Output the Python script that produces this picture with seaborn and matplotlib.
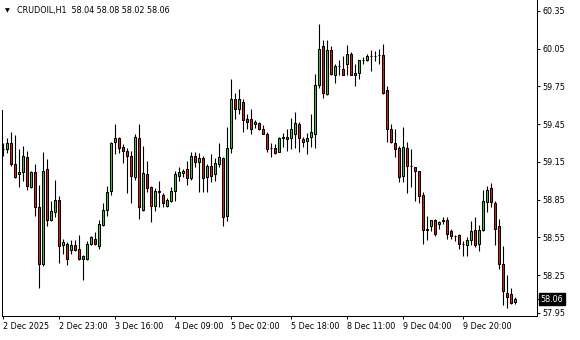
import matplotlib
matplotlib.use("Agg")
import matplotlib.pyplot as plt
import matplotlib.transforms as mtransforms
import seaborn as sns
import numpy as np
import pandas as pd

# ---- data (H1 candles) ----
opens = [59.25, 59.25, 59.30, 59.13, 59.05, 59.07, 59.19, 58.95, 59.07, 58.79,
         58.34, 59.09, 58.69, 58.75, 58.85, 58.49, 58.50, 58.45, 58.49, 58.46,
         58.38, 58.38, 58.50, 58.54, 58.48, 58.65, 58.77, 58.92, 59.31, 59.34,
         59.27, 59.24, 59.20, 59.03, 59.34, 58.77, 59.05, 58.95, 58.80, 58.91,
         58.89, 58.80, 58.84, 58.92, 59.04, 59.06, 59.09, 59.02, 59.20, 59.15,
         59.18, 59.03, 59.12, 59.05, 59.13, 59.18, 58.72, 59.26, 59.65, 59.57,
         59.63, 59.49, 59.49, 59.45, 59.46, 59.41, 59.37, 59.26, 59.26, 59.23,
         59.34, 59.35, 59.34, 59.37, 59.45, 59.33, 59.32, 59.35, 59.37, 59.76,
         60.07, 59.69, 60.04, 59.84, 59.91, 59.89, 59.93, 60.01, 59.84, 59.86,
         59.96, 59.96, 59.99, 59.99, 60.00, 60.00, 59.72, 59.41, 59.30, 59.26,
         59.04, 59.26, 59.12, 59.11, 59.08, 58.89, 58.61, 58.64, 58.69, 58.66,
         58.68, 58.69, 58.60, 58.56, 58.57, 58.50, 58.49, 58.53, 58.61, 58.50,
         58.61, 58.83, 58.94, 58.82, 58.64, 58.34, 58.11, 58.10, 58.04]
highs = [59.30, 59.34, 59.39, 59.36, 59.25, 59.28, 59.24, 59.08, 59.13, 58.97,
         59.23, 59.17, 58.84, 59.01, 58.88, 58.54, 58.51, 58.53, 58.53, 58.57,
         58.41, 58.52, 58.56, 58.59, 58.69, 58.82, 58.96, 59.31, 59.45, 59.35,
         59.29, 59.26, 59.24, 59.37, 59.45, 59.28, 59.16, 58.96, 58.94, 59.00,
         58.90, 58.86, 58.95, 59.08, 59.11, 59.09, 59.16, 59.23, 59.23, 59.22,
         59.20, 59.13, 59.21, 59.18, 59.30, 59.19, 59.43, 59.81, 59.70, 59.73,
         59.65, 59.53, 59.57, 59.48, 59.47, 59.44, 59.39, 59.30, 59.29, 59.35,
         59.38, 59.41, 59.50, 59.55, 59.47, 59.35, 59.38, 59.53, 59.85, 60.25,
         60.12, 60.12, 60.07, 59.93, 59.96, 59.99, 60.08, 60.02, 59.93, 59.96,
         59.98, 60.01, 60.04, 60.03, 60.05, 60.09, 59.75, 59.45, 59.41, 59.28,
         59.43, 59.31, 59.25, 59.11, 59.08, 58.91, 58.72, 58.69, 58.70, 58.68,
         58.71, 58.71, 58.62, 58.57, 58.58, 58.52, 58.55, 58.68, 58.71, 58.65,
         58.93, 58.96, 58.98, 58.84, 58.70, 58.48, 58.25, 58.15, 58.08]
lows = [59.20, 59.22, 59.12, 59.02, 58.95, 59.00, 58.93, 58.94, 58.72, 58.15,
        58.32, 58.64, 58.68, 58.71, 58.35, 58.42, 58.33, 58.42, 58.44, 58.37,
        58.21, 58.37, 58.49, 58.49, 58.46, 58.64, 58.72, 58.89, 59.21, 59.22,
        59.14, 58.90, 58.82, 59.01, 58.70, 58.76, 58.91, 58.67, 58.76, 58.79,
        58.79, 58.79, 58.83, 58.84, 59.00, 59.03, 58.97, 59.01, 59.11, 58.91,
        58.91, 58.91, 58.99, 59.00, 59.11, 58.64, 58.68, 59.22, 59.49, 59.53,
        59.39, 59.41, 59.37, 59.42, 59.40, 59.37, 59.23, 59.19, 59.21, 59.23,
        59.27, 59.24, 59.25, 59.26, 59.23, 59.27, 59.21, 59.27, 59.26, 59.74,
        59.66, 59.68, 59.84, 59.78, 59.84, 59.84, 59.84, 59.84, 59.75, 59.81,
        59.93, 59.95, 59.87, 59.95, 59.93, 59.69, 59.31, 59.30, 59.19, 58.99,
        58.99, 58.90, 58.95, 58.84, 58.82, 58.50, 58.53, 58.60, 58.56, 58.62,
        58.66, 58.54, 58.54, 58.52, 58.46, 58.40, 58.40, 58.49, 58.47, 58.44,
        58.60, 58.75, 58.79, 58.49, 58.30, 58.01, 57.99, 58.02, 58.02]
closes = [59.25, 59.30, 59.13, 59.03, 59.07, 59.20, 58.96, 59.07, 58.79, 58.34,
          59.08, 58.69, 58.76, 58.85, 58.48, 58.51, 58.38, 58.49, 58.45, 58.38,
          58.40, 58.50, 58.55, 58.50, 58.66, 58.77, 58.91, 59.30, 59.34, 59.26,
          59.24, 59.20, 59.04, 59.35, 58.79, 59.06, 58.94, 58.80, 58.92, 58.92,
          58.82, 58.85, 58.92, 59.05, 59.07, 59.08, 59.02, 59.20, 59.15, 59.18,
          59.02, 59.12, 59.04, 59.14, 59.19, 58.71, 59.26, 59.65, 59.57, 59.65,
          59.48, 59.47, 59.41, 59.47, 59.41, 59.37, 59.25, 59.26, 59.22, 59.34,
          59.35, 59.33, 59.41, 59.46, 59.34, 59.31, 59.34, 59.39, 59.76, 60.05,
          59.70, 60.04, 59.85, 59.91, 59.91, 59.84, 60.01, 59.84, 59.86, 59.96,
          59.96, 59.99, 59.99, 59.99, 60.00, 59.70, 59.41, 59.31, 59.25, 59.03,
          59.27, 59.12, 59.12, 59.08, 58.88, 58.61, 58.62, 58.69, 58.58, 58.67,
          58.69, 58.58, 58.56, 58.56, 58.50, 58.50, 58.53, 58.60, 58.49, 58.61,
          58.84, 58.93, 58.83, 58.62, 58.34, 58.12, 58.08, 58.03, 58.06]

x_tick_labels = ["2 Dec 2025", "2 Dec 23:00", "3 Dec 16:00", "4 Dec 09:00",
                 "5 Dec 02:00", "5 Dec 18:00", "8 Dec 11:00", "9 Dec 04:00",
                 "9 Dec 20:00"]
x_tick_bars = [0, 14, 28, 43, 57, 72, 86, 100, 115]
y_ticks = [57.95, 58.25, 58.55, 58.85, 59.15, 59.45, 59.75, 60.05, 60.35]
symbol = "CRUDOIL,H1"

df = pd.DataFrame({"open": opens, "high": highs, "low": lows, "close": closes})
df["bar"] = np.arange(len(df))
df["bottom"] = df[["open", "close"]].min(axis=1)
df["height"] = (df["close"] - df["open"]).abs()
df["dir"] = np.where(df["close"] > df["open"], "up",
                     np.where(df["close"] < df["open"], "down", "flat"))

sns.set_theme(style="white", rc={"axes.edgecolor": "black", "axes.linewidth": 0.75})
plt.rcParams["font.family"] = ["DejaVu Sans"]

palette = {"up": "#32CD32", "down": "#E41B17", "flat": "black"}

fig = plt.figure(figsize=(5.8, 3.4), dpi=100, facecolor="white")
W, H = 580, 340
ax = fig.add_axes([2 / W, 24 / H, 535 / W, 316 / H])
ax.set_facecolor("white")

# wicks
ax.vlines(df["bar"], df["low"], df["high"], color="black", linewidth=0.8, zorder=2)
# bodies
ax.bar(df["bar"], df["height"], bottom=df["bottom"], width=0.5,
       color=df["dir"].map(palette), edgecolor="black", linewidth=0.75, zorder=3)

ymin, ymax = 57.925, 60.437
ax.set_ylim(ymin, ymax)
ax.set_xlim(-0.325, 133.43)

for s in ["top"]:
    ax.spines[s].set_visible(False)
ax.spines["left"].set_bounds(ymin, 59.56)

ax.yaxis.tick_right()
ax.set_yticks(y_ticks)
ax.set_yticklabels([f"{v:.2f}" for v in y_ticks])
ax.tick_params(axis="y", which="both", right=True, left=False, direction="out",
               length=2.5, width=0.7, pad=1.5, labelsize=5.8, colors="black")

ax.set_xticks(x_tick_bars)
ax.set_xticklabels(x_tick_labels, ha="left")
ax.tick_params(axis="x", which="both", bottom=True, direction="out",
               length=2.5, width=0.7, pad=2.0, labelsize=5.8, colors="black")
ax.set_xlabel("")
ax.set_ylabel("")

# current price label
trans = mtransforms.blended_transform_factory(ax.transAxes, ax.transData)
ax.plot([1.0, 1.006], [closes[-1], closes[-1]], transform=trans, color="black",
        linewidth=0.7, clip_on=False)
ax.annotate(f"{closes[-1]:.2f}", xy=(1.0, closes[-1]), xycoords=trans,
            xytext=(2.6, 0), textcoords="offset points", ha="left", va="center",
            fontsize=5.8, color="white", annotation_clip=False,
            bbox=dict(boxstyle="square,pad=0.22", fc="black", ec="black"))

# header
fig.text(5 / W, 1 - 11 / H, "▼", fontsize=4.5, va="center", ha="left", color="black")
fig.text(17 / W, 1 - 11 / H,
         f"{symbol}  {opens[-1]:.2f} {highs[-1]:.2f} {lows[-1]:.2f} {closes[-1]:.2f}",
         fontsize=5.8, va="center", ha="left", color="black")

fig.savefig("out.png", dpi=100, facecolor="white")
